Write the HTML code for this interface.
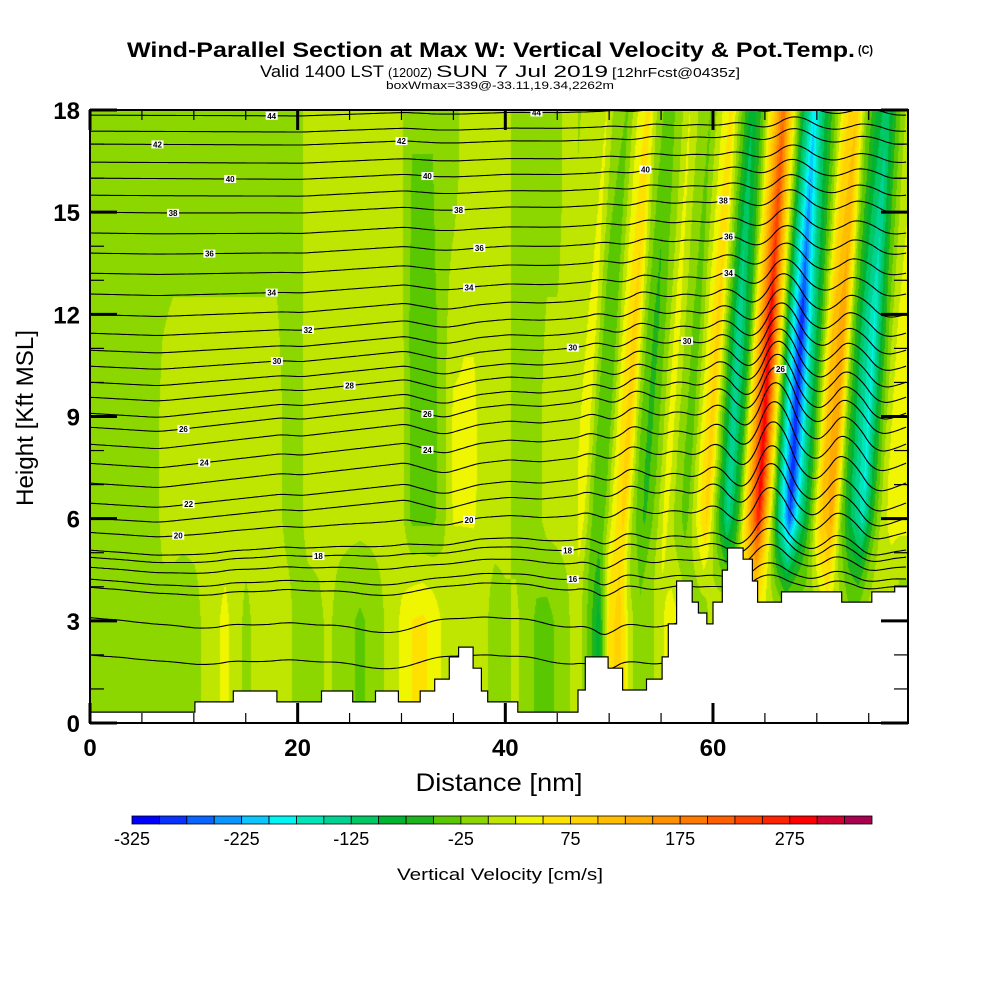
<!DOCTYPE html>
<html><head><meta charset="utf-8"><style>
html,body{margin:0;padding:0;background:#fff;}
#wrap{position:relative;width:1000px;height:1000px;overflow:hidden;}
#field{position:absolute;left:90px;top:110px;}
svg{position:absolute;left:0;top:0;}
text{font-family:"Liberation Sans",sans-serif;fill:#000;}
</style></head><body>
<div id="wrap">
<canvas id="field" width="818" height="613"></canvas>
<svg id="svg" width="1000" height="1000">
<defs><clipPath id="plotclip"><rect x="90" y="110" width="818" height="613"/></clipPath></defs>
<g id="contours" clip-path="url(#plotclip)"></g>
<g id="terrain"></g>
<g id="labels" clip-path="url(#plotclip)"></g>
<rect x="90" y="110" width="818" height="613" fill="none" stroke="#000" stroke-width="2"/>
<g id="axes"></g>
<text x="127" y="57" font-size="21" font-weight="bold" textLength="728" lengthAdjust="spacingAndGlyphs">Wind-Parallel Section at Max W: Vertical Velocity &amp; Pot.Temp.</text>
<text x="858" y="54" font-size="12" font-weight="bold" textLength="15" lengthAdjust="spacingAndGlyphs">(C)</text>
<text x="260" y="77" font-size="17" textLength="124" lengthAdjust="spacingAndGlyphs">Valid 1400 LST</text>
<text x="388" y="77" font-size="13" textLength="44" lengthAdjust="spacingAndGlyphs">(1200Z)</text>
<text x="436" y="77" font-size="17" textLength="172" lengthAdjust="spacingAndGlyphs">SUN 7 Jul 2019</text>
<text x="612" y="77" font-size="13" textLength="128" lengthAdjust="spacingAndGlyphs">[12hrFcst@0435z]</text>
<text x="386" y="89" font-size="11" textLength="228" lengthAdjust="spacingAndGlyphs">boxWmax=339@-33.11,19.34,2262m</text>
<text x="499" y="791" font-size="25" text-anchor="middle" textLength="167" lengthAdjust="spacingAndGlyphs">Distance [nm]</text>
<text transform="translate(33,418) rotate(-90)" font-size="24" text-anchor="middle" textLength="176" lengthAdjust="spacingAndGlyphs">Height [Kft MSL]</text>
<g id="cbar"></g>
<text x="500" y="880" font-size="17" text-anchor="middle" textLength="206" lengthAdjust="spacingAndGlyphs">Vertical Velocity [cm/s]</text>
</svg>
</div>
<script>
// ---- data ----
const colors = ["#0000ff","#0832ff","#0a64ff","#0a96ff","#0ac8ff","#00f5f5","#00e6b9","#00d291","#00c864","#00b432","#1eb41e","#5ac800","#8cd700","#bee600","#f0f500","#ffe100","#ffd200","#ffbe00","#ffaa00","#ff9100","#ff7800","#ff5f00","#ff4100","#ff2300","#ff0000","#d20032","#aa0050"];
const cbarTicks = [-325,-225,-125,-25,75,175,275];
const xTicks = [0,20,40,60];
const yTicks = [0,3,6,9,12,15,18];
// vertical velocity (cm/s) at 9 kft, every 1 nm, 0..78
const wUp = [-10,-10,-10,-10,-10,-10,-10,5,10,10,10,10,10,10,10,10,10,10,10,-10,-10,10,10,10,10,10,10,10,10,10,10,-35,-35,-35,-10,30,30,30,10,10,10,-10,-10,-10,10,10,10,20,40,-30,-40,40,90,-20,-60,-20,40,-10,-40,30,90,-40,-150,-60,120,300,60,-150,-300,-150,-40,100,150,-30,-120,-180,-60,20,40];
// vertical velocity (cm/s) at 16 kft, every 1 nm, 0..78
const wTop = [-10,-10,-10,-10,-10,-10,-10,-10,-10,-10,-10,-10,-10,-10,-10,-10,-10,-10,-10,-10,-10,10,10,10,10,10,10,10,10,10,5,-35,-35,-35,-10,-10,10,10,10,10,10,-10,-10,-10,-10,-10,10,10,40,-30,-40,40,90,-20,-60,-20,40,-10,-40,30,90,-40,-150,-60,120,300,60,-150,-300,-150,-40,100,150,-30,-120,-180,-60,20,40];
// low-level vertical velocity (cm/s), every 1 nm, 0..78
const wLow = [-10,-10,-5,-10,-15,-10,-10,-5,-10,-15,-10,5,15,35,10,-5,5,10,20,10,-10,-10,-5,5,-10,-20,-30,-20,-5,10,30,50,55,45,20,5,10,15,5,-10,-5,5,-10,-30,-35,-20,-5,20,-30,-90,60,90,10,-20,-10,20,40,20,-30,-20,20,40,-40,60,40,30,20,10,0,-20,-10,30,20,-10,-10,10,20,10,-20];
// amplitude by height (kft 0..18)
const ampByKft = [0.7,0.7,0.7,0.7,0.7,0.8,0.9,1,1,1,1,1,1,0.9,0.85,0.8,0.75,0.7,0.65];
// contour displacement factor by height (kft 0..18)
const etaByKft = [0.5,0.6,0.7,0.8,0.9,1,1,1,1,0.95,0.85,0.75,0.65,0.55,0.5,0.45,0.4,0.35,0.3];
// potential temperature contour levels and their west-edge heights (kft)
const thetaLevels = [44,43,42,41,40,39,38,37,36,35,34,33,32,31,30,29,28,27,26,25,24,23,22,21,20,19,18,17,16,15,14,13];
const thetaHeights = [17.85,17.38,17.0,16.47,16.0,15.5,15.0,14.39,13.8,13.21,12.6,12.0,11.45,10.95,10.48,10.01,9.57,9.1,8.69,8.19,7.63,7.05,6.46,6.02,5.6,5.08,4.87,4.58,4.23,3.99,3.1,2.0];
// contour labels: level and distance (nm)
const labelLevels = [44,42,40,38,36,34,32,30,28,26,24,22,20,18,44,42,40,38,36,34,30,26,24,20,18,16,40,38,36,34,30,26];
const labelX = [17.5,6.5,13.5,8,11.5,17.5,21,18,25,9,11,9.5,8.5,22,43,30,32.5,35.5,37.5,36.5,46.5,32.5,32.5,36.5,46,46.5,53.5,61,61.5,61.5,57.5,66.5];
// terrain steps: start distance (nm) and height (kft)
const terrainX = [0,10.1,13.8,18.0,22.3,25.3,27.5,29.7,31.8,33.2,34.6,35.5,36.9,37.7,38.3,41.2,47.0,47.7,49.9,51.3,53.6,55.1,55.7,56.5,58.0,58.6,59.4,60.0,60.9,61.4,62.9,63.8,64.3,66.6,72.4,75.3,77.5];
const terrainH = [0.32,0.62,0.94,0.62,0.94,0.62,0.94,0.62,0.94,1.29,1.94,2.23,1.61,0.94,0.62,0.32,0.97,1.94,1.61,0.97,1.29,1.94,2.91,4.17,3.55,3.23,2.91,3.55,4.49,5.14,4.81,4.17,3.55,3.85,3.55,3.85,4.02];

// ---- scales ----
const X0=90,X1=908,Y0=723,Y1=110,XMAX=(908-90)/10.383,YMAX=18;
const sx = d => X0 + d*(X1-X0)/XMAX;
const sy = h => Y0 - h*(Y0-Y1)/YMAX;
const NS="http://www.w3.org/2000/svg";
function interp(arr,x){ if(x<=0) return arr[0]; const n=arr.length-1; if(x>=n) return arr[n]; const i=Math.floor(x),f=x-i; return arr[i]*(1-f)+arr[i+1]*f; }
function wAt(x,h){
  const tilt = x>47 ? 0.2 : 0;
  const xs = x - tilt*(h-9);
  const s = Math.max(0,Math.min(1,(h-9)/7));
  const up = (interp(wUp,xs)*(1-s) + interp(wTop,xs)*s) * interp(ampByKft, h);
  const lo = interp(wLow, x);
  const t = Math.max(0,Math.min(1,(h-3)/3));
  return lo*(1-t)+up*t;
}
function colorIdx(w){ return Math.max(0,Math.min(colors.length-1,Math.floor((w+325)/25))); }
const rgb = colors.map(c=>[parseInt(c.slice(1,3),16),parseInt(c.slice(3,5),16),parseInt(c.slice(5,7),16)]);

// ---- field ----
(function(){
  const cv=document.getElementById('field'),ctx=cv.getContext('2d');
  const W=cv.width,H=cv.height,img=ctx.createImageData(W,H);
  for(let py=0;py<H;py++){
    const h=(Y0-(Y1+py+0.5))*YMAX/(Y0-Y1);
    for(let px=0;px<W;px++){
      const x=(px+0.5)*XMAX/(X1-X0);
      const c=rgb[colorIdx(wAt(x,h))],k=(py*W+px)*4;
      img.data[k]=c[0];img.data[k+1]=c[1];img.data[k+2]=c[2];img.data[k+3]=255;
    }
  }
  ctx.putImageData(img,0,0);
})();

// ---- contours ----
const lineY = {};
(function(){
  const g=document.getElementById('contours');
  const dx=0.2, scale=0.0028;
  thetaLevels.forEach((lev,i)=>{
    const h0=thetaHeights[i]; let eta=0; const etas=[], xs=[];
    for(let x=0;x<=XMAX+0.01;x+=dx){ eta += wAt(x,h0)*dx*scale; etas.push(eta); xs.push(x); }
    const endE=etas[etas.length-1];
    const f=interp(etaByKft,h0);
    const ys=[], pts=[];
    xs.forEach((x,j)=>{
      const e=(etas[j]-endE*x/XMAX)*f;
      const h=h0+e; ys.push(h);
      pts.push(sx(x).toFixed(1)+','+sy(h).toFixed(1));
    });
    lineY[lev]=ys;
    const p=document.createElementNS(NS,'polyline');
    p.setAttribute('points',pts.join(' '));
    p.setAttribute('fill','none');p.setAttribute('stroke','#000');p.setAttribute('stroke-width','1.1');
    
    
    g.appendChild(p);
  });
  const lg=document.getElementById('labels');
  labelLevels.forEach((lev,i)=>{
    const ys=lineY[lev]; if(!ys) return;
    const x=labelX[i], h=ys[Math.min(ys.length-1,Math.round(x/0.2))];
    const X=sx(x),Y=sy(h);
    const r=document.createElementNS(NS,'rect');
    r.setAttribute('x',X-6);r.setAttribute('y',Y-4);r.setAttribute('width',12);r.setAttribute('height',8);r.setAttribute('fill','#fff');
    
    
    lg.appendChild(r);
    const t=document.createElementNS(NS,'text');
    t.setAttribute('x',X);t.setAttribute('y',Y+3);t.setAttribute('font-size','8');t.setAttribute('font-weight','bold');t.setAttribute('text-anchor','middle');
    t.textContent=lev;
    
    
    lg.appendChild(t);
  });
})();

// ---- terrain ----
(function(){
  const g=document.getElementById('terrain');
  let pts=[sx(0)+','+sy(0)];
  terrainX.forEach((x,i)=>{
    const xe = i<terrainX.length-1 ? terrainX[i+1] : XMAX;
    pts.push(sx(x).toFixed(1)+','+sy(terrainH[i]).toFixed(1));
    pts.push(sx(xe).toFixed(1)+','+sy(terrainH[i]).toFixed(1));
  });
  pts.push(sx(XMAX)+','+sy(0));
  const p=document.createElementNS(NS,'polygon');
  p.setAttribute('points',pts.join(' '));
  p.setAttribute('fill','#fff');p.setAttribute('stroke','#000');p.setAttribute('stroke-width','1.2');
  
  
  g.appendChild(p);
})();

// ---- axes ----
(function(){
  const g=document.getElementById('axes');
  function line(x1,y1,x2,y2,w,name){
    const l=document.createElementNS(NS,'line');
    l.setAttribute('x1',x1);l.setAttribute('y1',y1);l.setAttribute('x2',x2);l.setAttribute('y2',y2);
    l.setAttribute('stroke','#000');l.setAttribute('stroke-width',w);
    
    
    g.appendChild(l);
  }
  function txt(x,y,s,anchor,name){
    const t=document.createElementNS(NS,'text');
    t.setAttribute('x',x);t.setAttribute('y',y);t.setAttribute('font-size','24');t.setAttribute('font-weight','bold');t.setAttribute('text-anchor',anchor);
    t.textContent=s;
    
    
    g.appendChild(t);
  }
  for(let d=0;d<=XMAX;d+=5){
    const major=xTicks.includes(d),L=major?20:10,w=major?3:1.2;
    line(sx(d),Y0,sx(d),Y0-L,w,'x-tick');
    line(sx(d),Y1,sx(d),Y1+L,w,'x-tick-top');
  }
  xTicks.forEach(d=>txt(sx(d),756,String(d),'middle','x-tick-label'));
  for(let h=0;h<=18;h+=1){
    const major=yTicks.includes(h),L=major?27:14,w=major?3:1.2;
    line(X0,sy(h),X0+L,sy(h),w,'y-tick');
    line(X1,sy(h),X1-L,sy(h),w,'y-tick-right');
  }
  yTicks.forEach(h=>txt(80,sy(h)+9,String(h),'end','y-tick-label'));
})();

// ---- colorbar ----
(function(){
  const g=document.getElementById('cbar');
  const cx0=132,cx1=872,bw=(cx1-cx0)/colors.length;
  const vx = v => cx0 + (v+325)/25*bw;
  colors.forEach((c,i)=>{
    const r=document.createElementNS(NS,'rect');
    r.setAttribute('x',cx0+i*bw);r.setAttribute('y',816);r.setAttribute('width',bw);r.setAttribute('height',8);
    r.setAttribute('fill',c);r.setAttribute('stroke','#000');r.setAttribute('stroke-width','0.8');
    
    
    g.appendChild(r);
  });
  cbarTicks.forEach(v=>{
    const t=document.createElementNS(NS,'text');
    t.setAttribute('x',vx(v));t.setAttribute('y',845);t.setAttribute('font-size','18');t.setAttribute('text-anchor','middle');
    t.textContent=v;
    
    
    g.appendChild(t);
  });
})();
</script>
</body></html>
